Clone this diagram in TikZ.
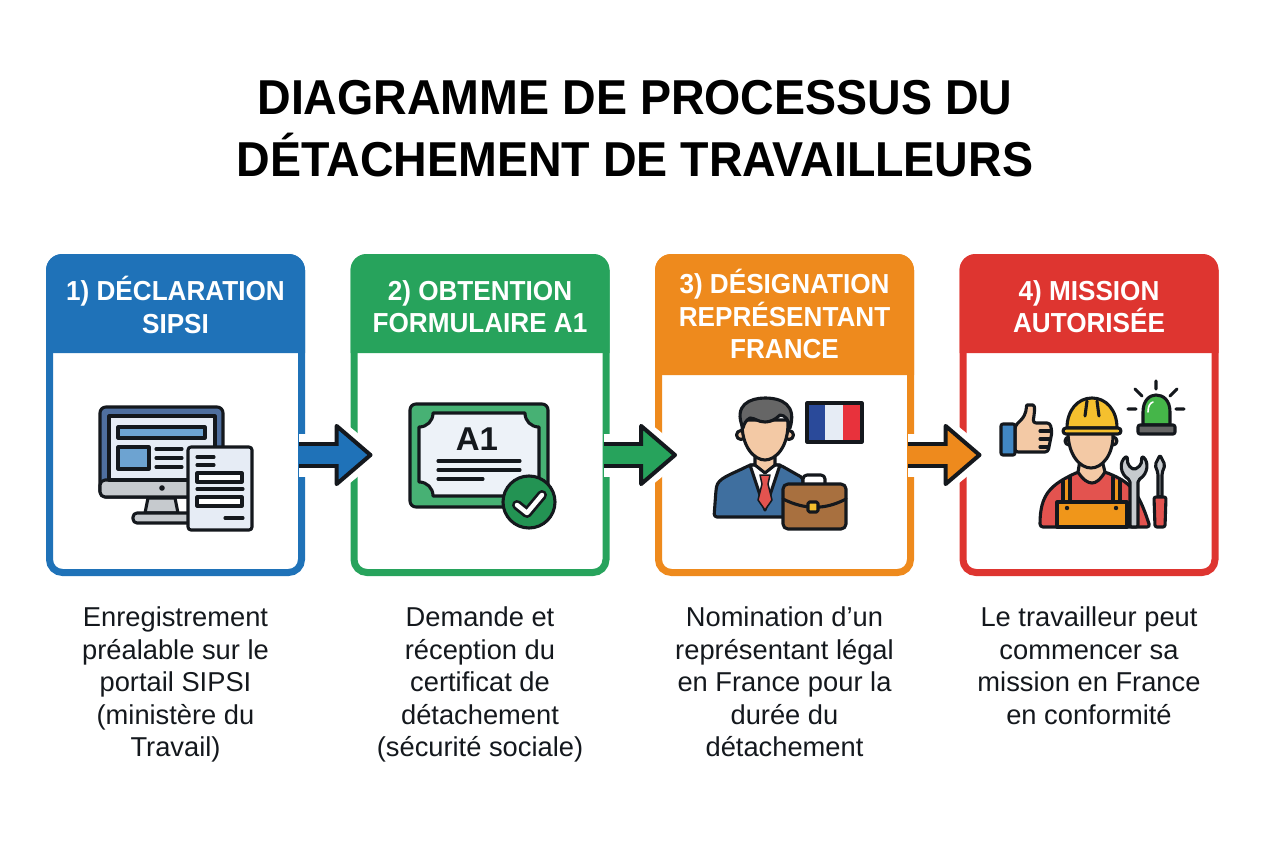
\documentclass[tikz,border=0pt]{standalone}
\usepackage{fontspec}
\setmainfont{Liberation Sans}
\newfontfamily\narrowf[FakeStretch=0.95]{Liberation Sans}
\usetikzlibrary{positioning,arrows.meta}

\definecolor{cblue}{HTML}{1F72B8}
\definecolor{cgreen}{HTML}{27A35C}
\definecolor{corange}{HTML}{EE8A1D}
\definecolor{cred}{HTML}{DE3530}
\definecolor{inkc}{HTML}{14181D}
\definecolor{paperc}{HTML}{E6ECF5}
\definecolor{screenc}{HTML}{4F6F9F}
\definecolor{greyc}{HTML}{C6CACE}
\definecolor{skinc}{HTML}{F3C9A5}
\definecolor{suitc}{HTML}{3F6F9F}
\definecolor{brownc}{HTML}{A8703F}
\definecolor{yellowc}{HTML}{F5C02E}
\definecolor{flagblue}{HTML}{2A4A9A}
\definecolor{flagred}{HTML}{E8323C}
\definecolor{lampc}{HTML}{45B649}

\tikzset{
  card/.style={draw=#1, fill=white, line width=7pt, rounded corners=13pt,
    minimum width=252pt, minimum height=315pt, inner sep=0pt},
  headtxt/.style={text=white, font=\fontsize{27.5}{32.5}\selectfont\narrowf\bfseries, align=center, inner sep=0pt},
  captxt/.style={text=inkc, font=\fontsize{27.3}{32.5}\selectfont, align=center, inner sep=0pt},
  titletxt/.style={text=black, font=\fontsize{49}{62}\selectfont\narrowf\bfseries, align=center, inner sep=0pt},
  ic/.style={draw=inkc, line width=3.1pt, line join=round, line cap=round},
}

\newcommand{\cardhead}[3]{
  \fill[#2] ([xshift=16pt]#1.north west) arc[start angle=90, end angle=180, radius=16pt]
    -- ([yshift=-#3]#1.north west) -- ([yshift=-#3]#1.north east)
    -- ([yshift=-16pt]#1.north east) arc[start angle=0, end angle=90, radius=16pt] -- cycle;
}
\newcommand{\flowarrow}[3]{
  \draw[white, line width=43pt, shorten >=-12pt, -{Triangle[length=60pt,width=94pt]}]
    ([shift={(-6pt,-40pt)}]#1.east) -- ([shift={(22pt,-40pt)}]#2.west);
  \draw[inkc, line width=26pt, -{Triangle[length=39pt,width=66pt,line width=4pt,round,fill=#3]}]
    ([shift={(-6pt,-40pt)}]#1.east) -- ([shift={(22pt,-40pt)}]#2.west);
  \draw[#3, line width=18pt]
    ([shift={(-6pt,-40pt)}]#1.east) -- ([shift={(-8pt,-40pt)}]#2.west);
}

\begin{document}
\begin{tikzpicture}[x=1pt,y=-1pt]
    \useasboundingbox (0,0) rectangle (1264,848);

    \node [titletxt] (title) at (635,129) {DIAGRAMME DE PROCESSUS DU\\DÉTACHEMENT DE TRAVAILLEURS};

    \node [card=cblue] (box1) at (175.5,415) {};
    \node [card=cgreen, right=45.5pt of box1] (box2) {};
    \node [card=corange, right=45.5pt of box2] (box3) {};
    \node [card=cred, right=45.5pt of box3] (box4) {};

    \cardhead{box1}{cblue}{99pt}
    \cardhead{box2}{cgreen}{99pt}
    \cardhead{box3}{corange}{121pt}
    \cardhead{box4}{cred}{99pt}

    \node [headtxt, below=22pt of box1.north] (head1) {1) DÉCLARATION\\SIPSI};
    \node [headtxt, below=26pt of box2.north] (head2) {2) OBTENTION\\FORMULAIRE A1};
    \node [headtxt, below=15pt of box3.north] (head3) {3) DÉSIGNATION\\REPRÉSENTANT\\FRANCE};
    \node [headtxt, below=26pt of box4.north] (head4) {4) MISSION\\AUTORISÉE};

    \node [captxt, below=31pt of box1] (cap1) {Enregistrement\\préalable sur le\\portail SIPSI\\(ministère du\\Travail)};
    \node [captxt, below=31pt of box2] (cap2) {Demande et\\réception du\\certificat de\\détachement\\(sécurité sociale)};
    \node [captxt, below=31pt of box3] (cap3) {Nomination d’un\\représentant légal\\en France pour la\\durée du\\détachement};
    \node [captxt, below=31pt of box4] (cap4) {Le travailleur peut\\commencer sa\\mission en France\\en conformité};

    \flowarrow{box1}{box2}{cblue}
    \flowarrow{box2}{box3}{cgreen}
    \flowarrow{box3}{box4}{corange}

    % computer
    \draw [ic, fill=screenc, rounded corners=6pt] (100,407) rectangle (223,497);
    \draw [ic, fill=greyc, rounded corners=5pt] (100,480) -- (223,480) -- (223,497) -- (100,497) -- cycle;
    \draw [ic, fill=paperc] (109,416) rectangle (215,480);
    \draw [ic, fill=cblue!65!white] (118,427) rectangle (205,438);
    \draw [ic, fill=cblue!65!white] (118,447) rectangle (149,469);
    \draw [ic] (156,449) -- (182,449) (156,458) -- (182,458) (156,467) -- (182,467);
    \fill [inkc] (162,488) circle (2.8);
    \draw [ic, fill=greyc] (148,498) -- (175,498) -- (178,513) -- (145,513) -- cycle;
    \draw [ic, fill=greyc, rounded corners=4pt] (133,513) rectangle (192,523);
    \draw [ic, fill=paperc, rounded corners=3pt] (188,447) rectangle (252,530);
    \draw [ic] (197,457) -- (214,457) (197,465) -- (214,465);
    \draw [ic, fill=white] (197,473) rectangle (242,482);
    \draw [ic] (197,489) -- (243,489);
    \draw [ic, fill=white] (197,497) rectangle (242,506);
    \draw [ic] (225,518) -- (243,518);

    % certificate
    \draw [ic, fill=cgreen!85!white, rounded corners=6pt] (410,404) rectangle (548,507);
    \draw [ic, fill=paperc!70!white] (433,413) -- (525,413)
      .. controls (525,421) and (531,427) .. (539,427) -- (539,482)
      .. controls (531,482) and (525,488) .. (525,496) -- (433,496)
      .. controls (433,488) and (427,482) .. (419,482) -- (419,427)
      .. controls (427,427) and (433,421) .. (433,413) -- cycle;
    \node [font=\fontsize{33}{33}\selectfont\bfseries, text=inkc, inner sep=0pt] (a1txt) at (477,439) {A1};
    \draw [ic] (438,461) -- (520,461) (438,470) -- (520,470) (438,479) -- (483,479);
    \draw [ic, fill=cgreen!90!black] (529,502) circle (26);
    \draw [inkc, line width=10pt, line cap=round, line join=round] (517,505) -- (527,513) -- (542,495);
    \draw [white, line width=4.5pt, line cap=round, line join=round] (517,505) -- (527,513) -- (542,495);

    % representative
    \draw [ic, fill=suitc, rounded corners=3pt] (714,517) -- (716,490) .. controls (718,478) and (730,475) .. (750,465)
      -- (780,465) -- (803,478) -- (803,517) -- cycle;
    \draw [ic, fill=white] (750,465) -- (780,465) -- (765,510) -- cycle;
    \draw [ic, line width=1.5pt, fill=cred!85!white] (760,475) -- (770,475) -- (768,484) -- (772,500) -- (765,510) -- (758,500) -- (762,484) -- cycle;
    \draw [ic, fill=skinc] (755,452) -- (775,452) -- (775,465) -- (765,473) -- (755,465) -- cycle;
    \draw [ic, fill=skinc] (741,435) circle (4.5) (789,435) circle (4.5);
    \draw [ic, fill=skinc] (742,420) .. controls (741,448) and (755,460) .. (765,460) .. controls (775,460) and (789,448) .. (788,420) -- cycle;
    \draw [ic, fill=black!60] (743,428) .. controls (733,405) and (750,398) .. (765,398) .. controls (782,398) and (797,405) .. (790,428)
      .. controls (789,420) and (785,415) .. (780,415) .. controls (775,420) and (770,422) .. (765,422) .. controls (758,422) and (755,418) .. (750,418) .. controls (746,420) and (744,424) .. (743,428) -- cycle;
    \draw [ic, fill=white, rounded corners=4pt] (803,486) -- (803,475) -- (825,475) -- (825,486);
    \draw [ic, fill=brownc, rounded corners=5pt] (783,484) rectangle (846,529);
    \draw [ic] (783,499) .. controls (805,510) and (825,510) .. (846,499);
    \draw [ic, fill=yellowc, rounded corners=1.5pt] (808,502) rectangle (818,512);

    % flag
    \fill [flagblue] (807,403) rectangle (825,442);
    \fill [paperc] (825,403) rectangle (843,442);
    \fill [flagred] (843,403) rectangle (862,442);
    \draw [ic] (807,403) rectangle (862,442);

    % thumb
    \draw [ic, fill=skinc, rounded corners=3pt] (1015,426) -- (1023,418) .. controls (1027,410) and (1026,405) .. (1030,405)
      .. controls (1036,405) and (1034,415) .. (1033,423) -- (1050,423) -- (1052,432) -- (1048,452) -- (1015,452) -- cycle;
    \draw [ic] (1040,431) -- (1051,431) (1040,439) -- (1050,439) (1040,447) -- (1048,447);
    \draw [ic, fill=cblue!85!white, rounded corners=2pt] (1001,424) rectangle (1015,455);

    % worker
    \draw [ic, fill=cred!85!white, rounded corners=3pt] (1040,527) .. controls (1040,495) and (1050,485) .. (1078,472)
      -- (1105,472) .. controls (1130,482) and (1138,490) .. (1150,527) -- cycle;
    \fill [corange!90!yellow] (1063,480) rectangle (1070,502) (1113,480) rectangle (1120,502);
    \draw [ic] (1063,480) -- (1063,502) (1070,477) -- (1070,502) (1113,477) -- (1113,502) (1120,480) -- (1120,502);
    \draw [ic, fill=corange!90!yellow] (1057,502) rectangle (1127,527);
    \fill [inkc] (1067,508) circle (2.2) (1116,508) circle (2.2);
    \draw [ic, fill=skinc] (1080,460) -- (1102,460) -- (1105,472) .. controls (1100,480) and (1096,483) .. (1092,483) .. controls (1088,483) and (1083,480) .. (1078,472) -- cycle;
    \draw [ic, fill=skinc] (1069,441) circle (4) (1113,441) circle (4);
    \draw [ic, fill=skinc] (1068,432) .. controls (1068,455) and (1080,468) .. (1091,468) .. controls (1102,468) and (1114,455) .. (1113,432) -- cycle;
    \draw [ic, fill=yellowc] (1067,428) .. controls (1067,410) and (1078,398) .. (1092,398) .. controls (1106,398) and (1117,410) .. (1117,428) -- cycle;
    \draw [ic] (1087,401) -- (1085,416) (1097,401) -- (1099,416);
    \draw [ic, fill=yellowc, rounded corners=3pt] (1063,428) rectangle (1121,434);

    % tools
    \draw [ic, fill=greyc, rounded corners=2pt] (1127,456) .. controls (1119,462) and (1120,474) .. (1130,480) -- (1130,527) -- (1138,527) -- (1138,480)
      .. controls (1148,474) and (1149,462) .. (1142,456) -- (1141,465) -- (1134,470) -- (1128,465) -- cycle;
    \draw [ic, fill=greyc, rounded corners=2pt] (1160,455) -- (1165,465) -- (1162,473) -- (1162,497) -- (1158,497) -- (1158,473) -- (1155,465) -- cycle;
    \draw [ic, fill=cred!85!white, rounded corners=2pt] (1154,497) -- (1166,497) -- (1165,527) -- (1155,527) -- cycle;

    % beacon
    \draw [ic, fill=lampc] (1143,425) -- (1143,412) .. controls (1143,400) and (1150,395) .. (1156,395) .. controls (1163,395) and (1170,400) .. (1170,412) -- (1170,425) -- cycle;
    \draw [white, line width=1.6pt, line cap=round] (1148,412) .. controls (1148,406) and (1150,403) .. (1153,402);
    \draw [ic, fill=black!60, rounded corners=2pt] (1138,425) rectangle (1175,434);
    \draw [ic] (1156,381) -- (1156,389) (1135,389) -- (1142,396) (1177,389) -- (1170,396) (1128,409) -- (1136,409) (1176,409) -- (1184,409);
\end{tikzpicture}
\end{document}
